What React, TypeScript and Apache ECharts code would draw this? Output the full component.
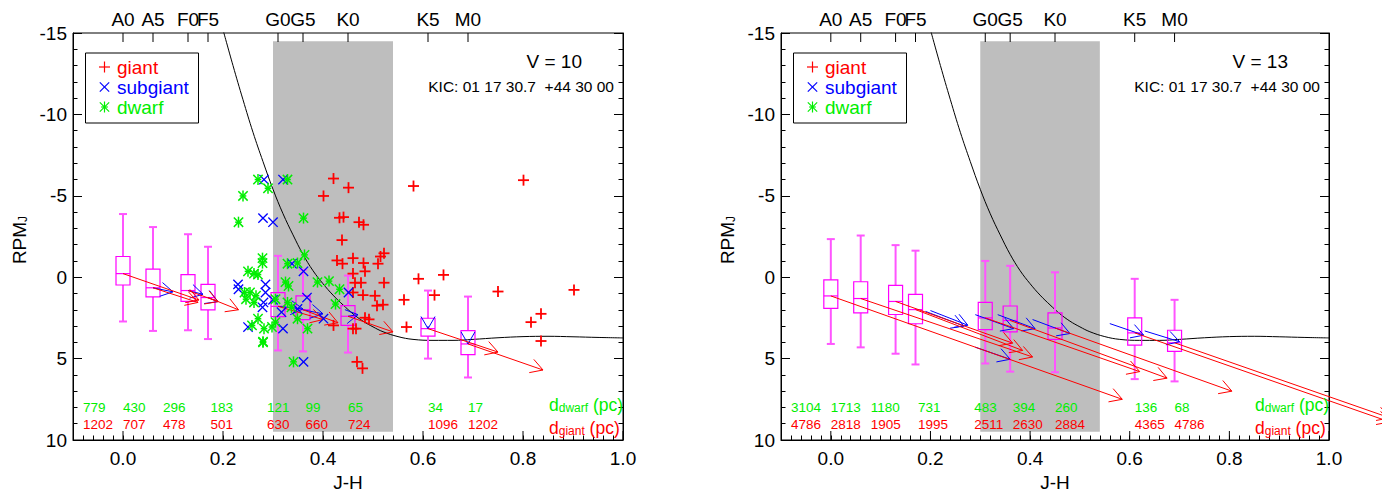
import React, { useEffect, useRef } from 'react';
import * as echarts from 'echarts';

const FONT = 'Liberation Sans, Arial, Helvetica, sans-serif';

const spectralX = [0.0, 0.06, 0.13, 0.17, 0.31, 0.36, 0.45, 0.61, 0.69];
const spectralLabels = ['A0', 'A5', 'F0', 'F5', 'G0', 'G5', 'K0', 'K5', 'M0'];
const majorX = [0.0, 0.2, 0.4, 0.6, 0.8, 1.0];
const distLabelX = [-0.08, 0.0, 0.08, 0.175, 0.288, 0.365, 0.45, 0.61, 0.69];

const dDwarfV10 = [779, 430, 296, 183, 121, 99, 65, 34, 17];
const dGiantV10 = [1202, 707, 478, 501, 630, 660, 724, 1096, 1202];
const dDwarfV13 = [3104, 1713, 1180, 731, 483, 394, 260, 136, 68];
const dGiantV13 = [4786, 2818, 1905, 1995, 2511, 2630, 2884, 4365, 4786];

// [x, whiskerTop, q1, median, q3, whiskerBottom]
const boxesV10 = [
  [0.0, -3.88, -1.27, -0.22, 0.48, 2.72],
  [0.06, -3.08, -0.5, 0.65, 1.21, 3.3],
  [0.13, -2.64, -0.16, 0.82, 1.49, 3.26],
  [0.17, -1.87, 0.44, 1.25, 2.01, 3.8],
  [0.31, -1.31, 0.95, 1.79, 2.42, 4.5],
  [0.36, -0.46, 1.15, 2.0, 2.6, 4.56],
  [0.45, -0.1, 1.75, 2.4, 2.96, 4.63],
  [0.61, 0.82, 2.52, 3.16, 3.62, 5.0],
  [0.69, 1.19, 3.28, 4.1, 4.76, 6.16],
];
const boxesV13 = [
  [0.0, -2.34, 0.16, 1.15, 1.91, 4.1],
  [0.06, -2.56, 0.28, 1.31, 2.19, 4.31],
  [0.13, -1.97, 0.5, 1.49, 2.29, 4.7],
  [0.17, -1.63, 1.05, 1.99, 2.86, 5.36],
  [0.31, -1.0, 1.55, 2.5, 3.22, 5.3],
  [0.36, -0.7, 1.77, 2.66, 3.36, 5.8],
  [0.45, -0.3, 2.19, 3.12, 3.82, 5.84],
  [0.61, 0.1, 2.5, 3.42, 4.17, 6.26],
  [0.69, 1.39, 3.26, 4.03, 4.56, 6.4],
];

// arrows [x0, y0, x1, y1]
const redArrowsV10 = [
  [0.0, -0.22, 0.152, 1.4],
  [0.06, 0.65, 0.15, 1.55],
  [0.13, 0.82, 0.19, 1.5],
  [0.17, 1.25, 0.231, 2.0],
  [0.31, 1.79, 0.4, 2.6],
  [0.36, 2.0, 0.43, 2.8],
  [0.45, 2.4, 0.54, 3.36],
  [0.61, 3.16, 0.75, 4.6],
  [0.69, 4.1, 0.84, 5.7],
];
const blueArrowsV10 = [
  [0.06, 0.65, 0.1, 0.9],
  [0.13, 0.82, 0.16, 1.05],
  [0.17, 1.25, 0.19, 1.5],
  [0.31, 1.79, 0.36, 1.95],
  [0.36, 2.0, 0.4, 2.25],
  [0.45, 2.4, 0.47, 2.3],
  [0.61, 3.0, 0.61, 3.16],
  [0.69, 3.95, 0.69, 4.1],
];
const redArrowsV13 = [
  [0.0, 1.15, 0.585, 7.5],
  [0.06, 1.31, 0.405, 4.9],
  [0.13, 1.49, 0.365, 4.05],
  [0.17, 1.99, 0.385, 4.5],
  [0.31, 2.5, 0.62, 5.8],
  [0.36, 2.66, 0.675, 6.2],
  [0.45, 3.12, 0.805, 7.0],
  [0.61, 3.42, 1.122, 8.89],
  [0.69, 4.03, 1.122, 8.64],
];
const blueArrowsV13 = [
  [0.19, 2.1, 0.267, 3.0],
  [0.2, 2.05, 0.275, 2.95],
  [0.29, 2.3, 0.367, 3.16],
  [0.335, 2.3, 0.41, 3.16],
  [0.405, 2.6, 0.48, 3.46],
  [0.56, 2.85, 0.628, 3.56],
  [0.63, 3.3, 0.7, 3.96],
  [0.29, 4.3, 0.36, 5.04],
];

const giantPts = [
  [0.421, -6.06], [0.451, -5.5], [0.401, -4.99], [0.581, -5.6], [0.801, -5.96],
  [0.433, -3.65], [0.441, -3.69], [0.472, -3.38], [0.481, -3.22], [0.438, -2.28],
  [0.428, -1.03], [0.439, -0.83], [0.46, -1.17], [0.481, -0.87], [0.51, -0.83],
  [0.515, -1.27], [0.522, -1.47], [0.484, -0.36], [0.46, -0.22], [0.464, 0.34],
  [0.476, 0.34], [0.522, 0.34], [0.591, 0.1], [0.641, -0.14], [0.46, 0.94],
  [0.48, 1.1], [0.504, 1.14], [0.508, 1.75], [0.52, 1.69], [0.562, 1.39],
  [0.623, 1.1], [0.75, 0.88], [0.902, 0.78], [0.484, 2.49], [0.492, 2.59],
  [0.421, 2.96], [0.46, 3.16], [0.466, 3.16], [0.567, 3.06], [0.836, 2.25],
  [0.816, 2.76], [0.836, 3.92], [0.468, 5.2], [0.479, 5.6],
];
const subgiantPts = [
  [0.282, -6.0], [0.32, -6.0], [0.28, -3.63], [0.3, -3.38], [0.361, -0.36],
  [0.338, -0.83], [0.23, 0.44], [0.231, 0.74], [0.285, 0.44], [0.285, 0.94],
  [0.281, 1.55], [0.279, 1.85], [0.3, 1.39], [0.317, 2.15], [0.349, 1.95],
  [0.368, 1.25], [0.451, 0.94], [0.401, 2.55], [0.25, 3.06], [0.32, 3.16],
  [0.361, 5.2],
];
const dwarfPts = [
  [0.27, -6.0], [0.329, -6.0], [0.29, -5.46], [0.24, -4.99], [0.231, -3.38],
  [0.361, -3.63], [0.279, -1.17], [0.279, -0.87], [0.363, -1.37], [0.329, -0.83],
  [0.349, -0.87], [0.25, -0.36], [0.262, -0.22], [0.27, -0.16], [0.325, 0.3],
  [0.331, 0.54], [0.389, 0.3], [0.412, 0.24], [0.243, 0.94], [0.254, 0.94],
  [0.266, 1.14], [0.246, 1.35], [0.262, 1.55], [0.305, 1.35], [0.329, 1.55],
  [0.433, 0.74], [0.425, 1.65], [0.27, 2.55], [0.305, 2.76], [0.282, 3.16],
  [0.298, 3.06], [0.258, 2.96], [0.369, 3.16], [0.28, 3.96], [0.349, 2.55],
  [0.337, 1.85], [0.28, 4.0], [0.341, 5.2],
];

const curveX = [0.2, 0.22, 0.24, 0.26, 0.28, 0.3, 0.32, 0.34, 0.36, 0.38, 0.4, 0.42, 0.44, 0.46, 0.48, 0.5, 0.52, 0.55, 0.58, 0.62, 0.66, 0.7, 0.75, 0.8, 0.85, 0.9, 0.95, 1.0];
const curveY = [-15.2, -13.0, -10.9, -8.9, -7.1, -5.4, -3.9, -2.6, -1.4, -0.4, 0.4, 1.1, 1.7, 2.25, 2.7, 3.05, 3.35, 3.65, 3.82, 3.88, 3.88, 3.82, 3.72, 3.65, 3.63, 3.66, 3.7, 3.73];

const grayBand = [0.3, -14.5, 0.54, 9.5];

const RED = '#ff0000';
const BLUE = '#0000ff';
const GREEN = '#00ee00';
const MAG = '#ff00ff';
const MAG2 = '#ff55ff';

const GRIDS = [
  { left: 73, top: 33, width: 550, height: 414 },
  { left: 781, top: 33, width: 548, height: 414 },
];

function arrowSeries(arrows: number[][], color: string, gi: number) {
  return {
    type: 'custom', xAxisIndex: gi, yAxisIndex: 2 * gi, z: 6, silent: true,
    encode: { x: [0, 2], y: [1, 3] },
    data: arrows,
    renderItem: (params: any, api: any) => {
      const p0 = api.coord([api.value(0), api.value(1)]);
      const p1 = api.coord([api.value(2), api.value(3)]);
      const ang = Math.atan2(p1[1] - p0[1], p1[0] - p0[0]);
      const L = 14, a = Math.PI / 6;
      const b1 = [p1[0] - L * Math.cos(ang - a), p1[1] - L * Math.sin(ang - a)];
      const b2 = [p1[0] - L * Math.cos(ang + a), p1[1] - L * Math.sin(ang + a)];
      return {
        type: 'group',
        children: [
          { type: 'line', shape: { x1: p0[0], y1: p0[1], x2: p1[0], y2: p1[1] }, style: { stroke: color, lineWidth: 1 } },
          { type: 'polyline', shape: { points: [b1, p1, b2] }, style: { stroke: color, fill: null, lineWidth: 1 } },
        ],
      };
    },
  };
}

function boxSeries(boxes: number[][], gi: number) {
  return {
    type: 'custom', xAxisIndex: gi, yAxisIndex: 2 * gi, z: 5, silent: true,
    encode: { x: 0, y: [1, 5] },
    data: boxes,
    renderItem: (params: any, api: any) => {
      const x = api.value(0);
      const pw = api.coord([x, api.value(1)]);
      const p1 = api.coord([x, api.value(2)]);
      const pm = api.coord([x, api.value(3)]);
      const p3 = api.coord([x, api.value(4)]);
      const pb = api.coord([x, api.value(5)]);
      const cx = pw[0];
      const hw = 7, cw = 4;
      const ws = { stroke: MAG2, lineWidth: 2 };
      const bs = { stroke: MAG, lineWidth: 1.2, fill: null };
      return {
        type: 'group',
        children: [
          { type: 'line', shape: { x1: cx, y1: pw[1], x2: cx, y2: p1[1] }, style: ws },
          { type: 'line', shape: { x1: cx - cw, y1: pw[1], x2: cx + cw, y2: pw[1] }, style: ws },
          { type: 'line', shape: { x1: cx, y1: p3[1], x2: cx, y2: pb[1] }, style: ws },
          { type: 'line', shape: { x1: cx - cw, y1: pb[1], x2: cx + cw, y2: pb[1] }, style: ws },
          { type: 'rect', shape: { x: cx - hw, y: p1[1], width: 2 * hw, height: p3[1] - p1[1] }, style: bs },
          { type: 'line', shape: { x1: cx - hw, y1: pm[1], x2: cx + hw, y2: pm[1] }, style: { stroke: MAG, lineWidth: 1.2 } },
        ],
      };
    },
  };
}

function glyphChildren(kind: string, cx: number, cy: number, color: string, lw?: number) {
  const s = 5.5;
  const w1 = lw || 1.8, w2 = lw || 1.3, w3 = lw || 1.5;
  const plus = [
    { type: 'line', shape: { x1: cx - s, y1: cy, x2: cx + s, y2: cy }, style: { stroke: color, lineWidth: w1 } },
    { type: 'line', shape: { x1: cx, y1: cy - s, x2: cx, y2: cy + s }, style: { stroke: color, lineWidth: w1 } },
  ];
  const d = s * 0.85;
  const cross = [
    { type: 'line', shape: { x1: cx - d, y1: cy - d, x2: cx + d, y2: cy + d }, style: { stroke: color, lineWidth: w2 } },
    { type: 'line', shape: { x1: cx - d, y1: cy + d, x2: cx + d, y2: cy - d }, style: { stroke: color, lineWidth: w2 } },
  ];
  if (kind === 'plus') return plus;
  if (kind === 'cross') return cross;
  return [
    { type: 'line', shape: { x1: cx, y1: cy - s, x2: cx, y2: cy + s }, style: { stroke: color, lineWidth: w3 } },
    { type: 'line', shape: { x1: cx - d, y1: cy - d, x2: cx + d, y2: cy + d }, style: { stroke: color, lineWidth: w3 } },
    { type: 'line', shape: { x1: cx - d, y1: cy + d, x2: cx + d, y2: cy - d }, style: { stroke: color, lineWidth: w3 } },
    { type: 'line', shape: { x1: cx - s * 0.6, y1: cy, x2: cx + s * 0.6, y2: cy }, style: { stroke: color, lineWidth: w3 } },
  ];
}

function glyphSeries(pts: number[][], kind: string, color: string, gi: number) {
  return {
    type: 'custom', xAxisIndex: gi, yAxisIndex: 2 * gi, z: 7, silent: true,
    data: pts,
    renderItem: (params: any, api: any) => {
      const p = api.coord([api.value(0), api.value(1)]);
      return { type: 'group', children: glyphChildren(kind, p[0], p[1], color) };
    },
  };
}

function distSeries(vals: number[], row: number, color: string, gi: number) {
  return {
    type: 'custom', xAxisIndex: gi, yAxisIndex: 2 * gi, z: 8, silent: true,
    data: distLabelX.map((x) => [x, row]),
    renderItem: (params: any, api: any) => {
      const p = api.coord([api.value(0), api.value(1)]);
      return {
        type: 'text', x: p[0], y: p[1],
        style: { text: String(vals[params.dataIndex]), fill: color, fontSize: 13.5, fontFamily: FONT, align: 'left', verticalAlign: 'middle' },
      };
    },
  };
}

function frameSeries(gi: number) {
  const items = majorX.map((x) => [x, 0]).concat(spectralX.map((x) => [x, 1]));
  return {
    type: 'custom', xAxisIndex: gi, yAxisIndex: 2 * gi, z: 9, silent: true,
    encode: { x: 0 },
    data: items,
    renderItem: (params: any, api: any) => {
      const x = api.value(0);
      const kind = api.value(1);
      if (kind === 0) {
        const p = api.coord([x, 10]);
        return { type: 'line', shape: { x1: p[0], y1: p[1], x2: p[0], y2: p[1] - 9 }, style: { stroke: '#000', lineWidth: 1 } };
      }
      const p = api.coord([x, -15]);
      const idx = params.dataIndex - majorX.length;
      return {
        type: 'group',
        children: [
          { type: 'line', shape: { x1: p[0], y1: p[1], x2: p[0], y2: p[1] + 9 }, style: { stroke: '#000', lineWidth: 1 } },
          { type: 'text', x: p[0], y: p[1] - 14, style: { text: spectralLabels[idx], fill: '#000', fontSize: 19, fontFamily: FONT, align: 'center', verticalAlign: 'middle' } },
        ],
      };
    },
  };
}

function bandSeries(gi: number) {
  return {
    type: 'custom', xAxisIndex: gi, yAxisIndex: 2 * gi, z: 1, silent: true,
    encode: { x: [0, 2], y: [1, 3] },
    data: [grayBand],
    renderItem: (params: any, api: any) => {
      const a = api.coord([api.value(0), api.value(1)]);
      const b = api.coord([api.value(2), api.value(3)]);
      return { type: 'rect', shape: { x: a[0], y: a[1], width: b[0] - a[0], height: b[1] - a[1] }, style: { fill: '#bebebe' } };
    },
  };
}

function curveSeries(gi: number) {
  return {
    type: 'line', xAxisIndex: gi, yAxisIndex: 2 * gi, z: 4, silent: true,
    data: curveX.map((x, i) => [x, curveY[i]]),
    smooth: 0.4, showSymbol: false, symbol: 'none', clip: true,
    lineStyle: { color: '#000', width: 1 },
  };
}

function xAxis(gi: number) {
  return {
    gridIndex: gi, type: 'value', min: -0.1, max: 1.0, interval: 0.02,
    axisLine: { show: true, onZero: false, lineStyle: { color: '#000', width: 1 } },
    axisTick: { show: true, inside: true, length: 4.5, lineStyle: { color: '#000' } },
    axisLabel: {
      color: '#000', fontSize: 19, fontFamily: FONT, margin: 9,
      formatter: (v: number) => {
        const k = v * 5;
        if (Math.abs(k - Math.round(k)) < 1e-6 && v > -0.05) return (Math.round(k) / 5).toFixed(1);
        return '';
      },
    },
    splitLine: { show: false },
    name: 'J-H', nameLocation: 'middle', nameGap: 33,
    nameTextStyle: { color: '#000', fontSize: 19, fontFamily: FONT },
  };
}

function yAxis(gi: number, pos: string) {
  return {
    gridIndex: gi, type: 'value', position: pos, inverse: true, min: -15, max: 10, interval: 5,
    axisLine: { show: true, onZero: false, lineStyle: { color: '#000', width: 1 } },
    axisTick: { show: true, inside: true, length: 9, lineStyle: { color: '#000' } },
    minorTick: { show: true, splitNumber: 5, length: 4.5, lineStyle: { color: '#000' } },
    axisLabel: { show: pos === 'left', color: '#000', fontSize: 19, fontFamily: FONT, margin: 6 },
    splitLine: { show: false },
    minorSplitLine: { show: false },
  };
}

function legendGraphics(ox: number) {
  const rows = [
    { kind: 'plus', color: RED, text: 'giant', y: 67 },
    { kind: 'cross', color: BLUE, text: 'subgiant', y: 87 },
    { kind: 'star', color: GREEN, text: 'dwarf', y: 107 },
  ];
  const els: any[] = [
    { type: 'rect', shape: { x: ox + 12.5, y: 53, width: 113, height: 70 }, style: { stroke: '#000', fill: '#fff', lineWidth: 1 }, z: 20 },
  ];
  rows.forEach((r) => {
    glyphChildren(r.kind, ox + 31.5, r.y, r.color, 1.2).forEach((c: any) => els.push({ ...c, z: 21 }));
    els.push({ type: 'text', z: 21, x: ox + 44, y: r.y, style: { text: r.text, fill: r.color, fontSize: 19, fontFamily: FONT, align: 'left', verticalAlign: 'middle' } });
  });
  return els;
}

function panelTexts(ox: number, right: number, vtext: string) {
  const dRich = (c: string) => ({
    d: { fontSize: 17.5, lineHeight: 15, fontFamily: FONT, fill: c, verticalAlign: 'bottom' },
    s: { fontSize: 12, lineHeight: 15, fontFamily: FONT, fill: c, verticalAlign: 'bottom' },
  });
  return [
    { type: 'text', z: 20, x: right - 41, y: 61, style: { text: vtext, fill: '#000', fontSize: 19, fontFamily: FONT, align: 'right', verticalAlign: 'middle' } },
    { type: 'text', z: 20, x: right - 9, y: 86, style: { text: 'KIC: 01 17 30.7  +44 30 00', fill: '#000', fontSize: 15.5, fontFamily: FONT, align: 'right', verticalAlign: 'middle' } },
    {
      type: 'text', z: 20, x: ox - 54, y: 240, rotation: Math.PI / 2,
      style: {
        text: '{m|RPM}{s|J}', align: 'center', verticalAlign: 'middle', fill: '#000', fontFamily: FONT,
        rich: { m: { fontSize: 19, fontFamily: FONT, fill: '#000', verticalAlign: 'bottom' }, s: { fontSize: 12, fontFamily: FONT, fill: '#000', verticalAlign: 'bottom' } },
      },
    },
    {
      type: 'text', z: 20, x: right - 74, y: 406,
      style: { text: '{d|d}{s|dwarf}{d| (pc)}', align: 'left', verticalAlign: 'middle', fill: GREEN, fontFamily: FONT, rich: dRich(GREEN) },
    },
    {
      type: 'text', z: 20, x: right - 74, y: 429,
      style: { text: '{d|d}{s|giant}{d| (pc)}', align: 'left', verticalAlign: 'middle', fill: RED, fontFamily: FONT, rich: dRich(RED) },
    },
  ];
}

export default function App() {
  const ref = useRef<HTMLDivElement>(null);
  useEffect(() => {
    if (!ref.current) return;
    const chart = echarts.init(ref.current, undefined, { renderer: 'svg' });
    const panels = [
      { boxes: boxesV10, red: redArrowsV10, blue: blueArrowsV10, dd: dDwarfV10, dg: dGiantV10 },
      { boxes: boxesV13, red: redArrowsV13, blue: blueArrowsV13, dd: dDwarfV13, dg: dGiantV13 },
    ];
    const series: any[] = [];
    panels.forEach((p, gi) => {
      series.push(bandSeries(gi));
      series.push(curveSeries(gi));
      series.push(boxSeries(p.boxes, gi));
      series.push(arrowSeries(p.blue, BLUE, gi));
      series.push(arrowSeries(p.red, RED, gi));
      series.push(distSeries(p.dd, 8.0, GREEN, gi));
      series.push(distSeries(p.dg, 9.05, RED, gi));
      series.push(frameSeries(gi));
    });
    series.push(glyphSeries(giantPts, 'plus', RED, 0));
    series.push(glyphSeries(subgiantPts, 'cross', BLUE, 0));
    series.push(glyphSeries(dwarfPts, 'star', GREEN, 0));

    const option: any = {
      animation: false,
      backgroundColor: '#fff',
      grid: GRIDS.map((g) => ({ ...g, show: true, borderColor: '#000', borderWidth: 1, backgroundColor: 'transparent' })),
      xAxis: [xAxis(0), xAxis(1)],
      yAxis: [yAxis(0, 'left'), yAxis(0, 'right'), yAxis(1, 'left'), yAxis(1, 'right')],
      series,
      graphic: [
        ...legendGraphics(73), ...legendGraphics(781),
        ...panelTexts(73, 623, 'V = 10'), ...panelTexts(781, 1329, 'V = 13'),
      ],
    };
    chart.setOption(option);
    return () => chart.dispose();
  }, []);
  return <div ref={ref} style={{ position: 'fixed', left: 0, top: 0, width: 1382, height: 497, background: '#fff' }} />;
}
